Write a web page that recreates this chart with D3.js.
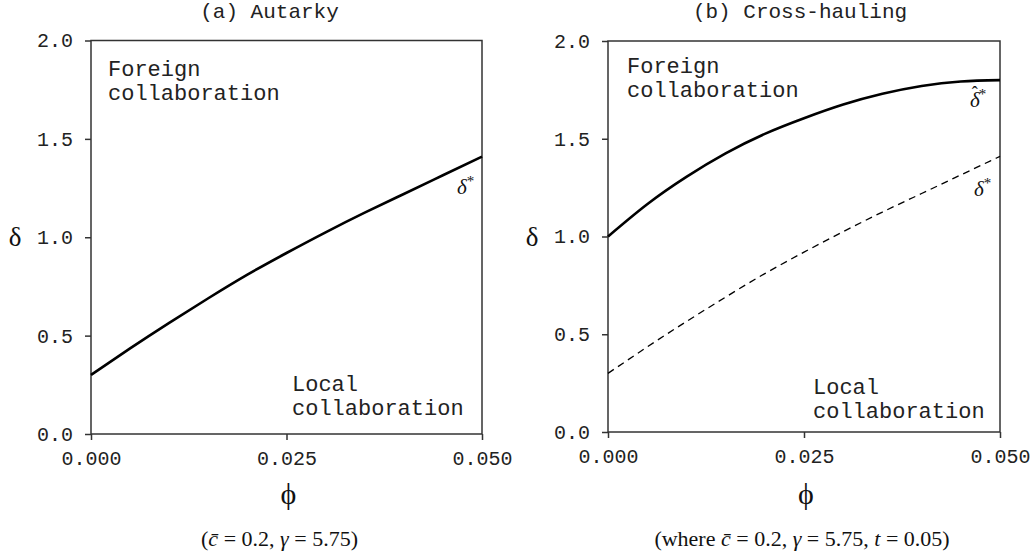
<!DOCTYPE html>
<html>
<head>
<meta charset="utf-8">
<script src="https://cdn.jsdelivr.net/npm/d3@7"></script>
<style>
  body { margin: 0; background: #fff; }
  svg { display: block; }
  .mono { font-family: "Liberation Mono", "Courier New", monospace; fill: #222; }
  .serif { font-family: "Liberation Serif", "Times New Roman", serif; fill: #111; }
  .axis path, .axis line { stroke: #333; stroke-width: 1.5; }
  .axis text { font-family: "Liberation Mono", "Courier New", monospace; font-size: 20px; fill: #222; }
</style>
</head>
<body>
<svg class="chart"></svg>
<script>
// Values.
var phiValues = [0, 0.005, 0.01, 0.015, 0.02, 0.025, 0.03, 0.035, 0.04, 0.045, 0.05];
var deltaStar = [0.30, 0.435, 0.565, 0.69, 0.81, 0.92, 1.025, 1.125, 1.22, 1.315, 1.41];
var deltaHatStar = [1.00, 1.165, 1.305, 1.425, 1.525, 1.605, 1.675, 1.73, 1.77, 1.793, 1.80];
var yTicks = [0, 0.5, 1.0, 1.5, 2.0];
var xTicks = [0, 0.025, 0.05];
var panelTitles = ['(a) Autarky', '(b) Cross-hauling'];

var width = 1035;
var height = 557;

var chart = d3.select('.chart').attr('width', width).attr('height', height);

var panels = [
  {left: 91, right: 482, top: 40.5, bottom: 434, title: panelTitles[0],
   series: [{values: deltaStar, dash: null, w: 2.6}],
   labels: [{x: 457, y: 194, hat: false}],
   foreign: [108, 76], local: [292, 391],
   caption: 'autarky'},
  {left: 608, right: 1000, top: 41, bottom: 432, title: panelTitles[1],
   series: [{values: deltaHatStar, dash: null, w: 2.6},
            {values: deltaStar, dash: '7,5', w: 1.3}],
   labels: [{x: 970, y: 107, hat: true}, {x: 974, y: 196, hat: false}],
   foreign: [627, 73], local: [813, 394],
   caption: 'cross'}
];

panels.forEach(function(p) {
  var x = d3.scaleLinear().domain([0, 0.05]).range([p.left, p.right]);
  var y = d3.scaleLinear().domain([0, 2]).range([p.bottom, p.top]);
  var g = chart.append('g');

  // Frame
  g.append('rect')
      .attr('x', x(0)).attr('y', y(2))
      .attr('width', x(0.05) - x(0)).attr('height', y(0) - y(2))
      .attr('fill', 'none').attr('stroke', '#333').attr('stroke-width', 1.5);

  g.append('g')
      .attr('class', 'axis')
      .attr('transform', 'translate(' + x(0) + ',0)')
      .call(d3.axisLeft(y).tickValues(yTicks).tickFormat(d3.format('.1f'))
                .tickSize(6).tickSizeOuter(0).tickPadding(12))
      .call(s => s.select('.domain').remove());

  g.append('g')
      .attr('class', 'axis')
      .attr('transform', 'translate(0,' + y(0) + ')')
      .call(d3.axisBottom(x).tickValues(xTicks).tickFormat(d3.format('.3f'))
                .tickSize(6).tickSizeOuter(0).tickPadding(11))
      .call(s => s.select('.domain').remove());

  // Curves
  var line = d3.line()
      .x((d, i) => x(phiValues[i]))
      .y(d => y(d))
      .curve(d3.curveNatural);
  p.series.forEach(function(s) {
    g.append('path')
        .datum(s.values)
        .attr('d', line)
        .attr('fill', 'none')
        .attr('stroke', '#000')
        .attr('stroke-width', s.w)
        .attr('stroke-dasharray', s.dash);
  });

  // Curve labels (the hat sits on the delta on purpose)
  p.labels.forEach(function(l) {
    var t = g.append('text').attr('class', 'serif')
        .attr('x', l.x).attr('y', l.y)
        .style('font-size', '21px').style('font-style', 'italic');
    t.append('tspan').text('δ');
    if (l.hat) {
      t.append('tspan').attr('dx', -8).attr('dy', -8)
          .style('font-size', '18px').style('font-style', 'normal').text('\u02C6');
      t.append('tspan').attr('dx', 1).attr('dy', 0)
          .style('font-size', '15px').style('font-style', 'normal').text('*');
    } else {
      t.append('tspan').attr('dy', -8)
          .style('font-size', '15px').style('font-style', 'normal').text('*');
    }
  });

  // Title
  g.append('text').attr('class', 'mono')
      .attr('x', (p.left + p.right) / 2 - (p.caption === 'autarky' ? 17 : 4))
      .attr('y', 18)
      .attr('text-anchor', 'middle')
      .style('font-size', '21px')
      .text(p.title);

  // Region notes
  [['Foreign', 'collaboration', p.foreign], ['Local', 'collaboration', p.local]]
      .forEach(function(n) {
        var t = g.append('text').attr('class', 'mono').style('font-size', '22px');
        t.append('tspan').attr('x', n[2][0]).attr('y', n[2][1]).text(n[0]);
        t.append('tspan').attr('x', n[2][0]).attr('y', n[2][1] + 23.5).text(n[1]);
      });

  // Axis titles
  g.append('text').attr('class', 'serif')
      .attr('x', p.left - 76).attr('y', (p.top + p.bottom) / 2 + 9)
      .attr('text-anchor', 'middle')
      .style('font-size', '27px')
      .text('δ');
  g.append('text').attr('class', 'serif')
      .attr('x', (p.left + p.right) / 2 + 2).attr('y', 504)
      .attr('text-anchor', 'middle')
      .style('font-size', '30px')
      .text('ϕ');

  // Caption
  var c = g.append('text').attr('class', 'serif')
      .attr('x', (p.left + p.right) / 2 + (p.caption === 'autarky' ? -7 : -2))
      .attr('y', 546)
      .attr('text-anchor', 'middle')
      .style('font-size', '22px');
  c.append('tspan').text(p.caption === 'autarky' ? '(' : '(where ');
  c.append('tspan').style('font-style', 'italic').text('c\u0304');
  c.append('tspan').text(' = 0.2, ');
  c.append('tspan').style('font-style', 'italic').text('γ');
  c.append('tspan').text(' = 5.75' + (p.caption === 'autarky' ? ')' : ', '));
  if (p.caption !== 'autarky') {
    c.append('tspan').style('font-style', 'italic').text('t');
    c.append('tspan').text(' = 0.05)');
  }
});
</script>
</body>
</html>
